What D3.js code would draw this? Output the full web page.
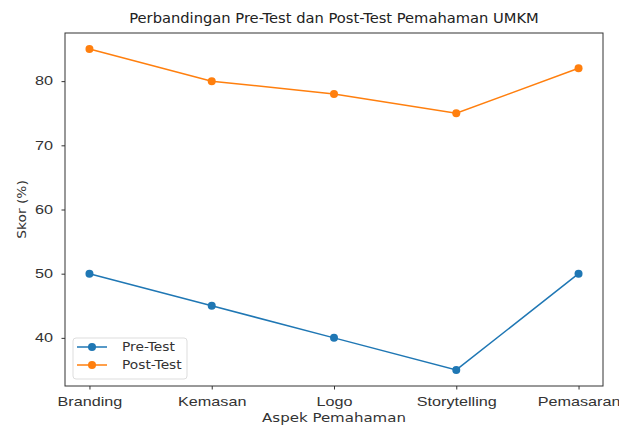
<!DOCTYPE html>
<html>
<head>
<meta charset="utf-8">
<script src="https://cdn.jsdelivr.net/npm/d3@7"></script>
<style>
  body { margin: 0; background: #fff; }
  svg { font-family: "DejaVu Sans", sans-serif; }
</style>
</head>
<body>
<svg id="chart"></svg>
<script>
let categories = ["Branding", "Kemasan", "Logo", "Storytelling", "Pemasaran"];
let preTest = [50, 45, 40, 35, 50];
let postTest = [85, 80, 78, 75, 82];
let yTicks = [40, 50, 60, 70, 80];
let seriesNames = ["Pre-Test", "Post-Test"];
let colors = ["#1f77b4", "#ff7f0e"];

// the reference text looks stretched sideways a bit
let stretch = 1.35;

function drawChart() {
    let w = 619, h = 425;
    let margin = {top: 33, right: 16, bottom: 39, left: 65};

    let svg = d3.select("#chart")
        .attr("width", w)
        .attr("height", h);

    // matplotlib style 5% padding on both axes
    let x = d3.scaleLinear()
        .domain([-0.2, categories.length - 1 + 0.2])
        .range([margin.left, w - margin.right]);

    let allVals = preTest.concat(postTest);
    let yMin = d3.min(allVals), yMax = d3.max(allVals);
    let pad = (yMax - yMin) * 0.05;
    let y = d3.scaleLinear()
        .domain([yMin - pad, yMax + pad])
        .range([h - margin.bottom, margin.top]);

    let xAxis = d3.axisBottom(x)
        .tickValues(d3.range(categories.length))
        .tickFormat(i => categories[i])
        .tickSizeOuter(0)
        .tickSize(3.5)
        .tickPadding(8);

    let yAxis = d3.axisLeft(y)
        .tickValues(yTicks)
        .tickSizeOuter(0)
        .tickSize(3.5)
        .tickPadding(8.5);

    let gx = svg.append("g")
        .attr("transform", `translate(0,${h - margin.bottom})`)
        .call(xAxis);
    let gy = svg.append("g")
        .attr("transform", `translate(${margin.left},0)`)
        .call(yAxis);

    [gx, gy].forEach(g => {
        g.select(".domain").remove();
        g.selectAll("line").attr("stroke", "#333");
        g.selectAll("text")
            .attr("font-size", 12)
            .attr("fill", "#333")
            .each(function() {
                let t = d3.select(this);
                let tx = +t.attr("x") || 0;
                t.attr("x", 0)
                    .attr("transform", `translate(${tx},0) scale(${stretch},1)`);
            });
    });

    let series = [preTest, postTest];
    let line = d3.line()
        .x((d, i) => x(i))
        .y(d => y(d));

    series.forEach((vals, s) => {
        svg.append("path")
            .datum(vals)
            .attr("fill", "none")
            .attr("stroke", colors[s])
            .attr("stroke-width", 1.5)
            .attr("d", line);
        svg.append("g")
            .selectAll("circle")
            .data(vals)
            .enter()
            .append("circle")
            .attr("cx", (d, i) => x(i))
            .attr("cy", d => y(d))
            .attr("r", 4)
            .attr("fill", colors[s]);
    });

    // axes frame
    svg.append("rect")
        .attr("x", margin.left)
        .attr("y", margin.top)
        .attr("width", w - margin.left - margin.right)
        .attr("height", h - margin.top - margin.bottom)
        .attr("fill", "none")
        .attr("stroke", "#333")
        .attr("stroke-width", 1);

    svg.append("text")
        .attr("x", (margin.left + w - margin.right) / 2)
        .attr("y", 23)
        .attr("text-anchor", "middle")
        .attr("font-size", 14.7)
        .attr("fill", "#222")
        .text("Perbandingan Pre-Test dan Post-Test Pemahaman UMKM");

    svg.append("text")
        .attr("transform", `translate(${(margin.left + w - margin.right) / 2},422) scale(1.25,1)`)
        .attr("text-anchor", "middle")
        .attr("font-size", 12)
        .attr("fill", "#333")
        .text("Aspek Pemahaman");

    svg.append("text")
        .attr("transform", `translate(26,${(margin.top + h - margin.bottom) / 2}) rotate(-90) scale(1.15,1)`)
        .attr("text-anchor", "middle")
        .attr("font-size", 12)
        .attr("fill", "#333")
        .text("Skor (%)");

    // legend
    let lg = svg.append("g").attr("transform", "translate(73,338)");
    lg.append("rect")
        .attr("width", 114)
        .attr("height", 41)
        .attr("rx", 3)
        .attr("fill", "#fff")
        .attr("fill-opacity", 0.8)
        .attr("stroke", "#ddd");
    seriesNames.forEach((name, i) => {
        let yy = 9 + i * 18;
        lg.append("line")
            .attr("x1", 4).attr("x2", 34)
            .attr("y1", yy).attr("y2", yy)
            .attr("stroke", colors[i])
            .attr("stroke-width", 1.5);
        lg.append("circle")
            .attr("cx", 19).attr("cy", yy).attr("r", 4)
            .attr("fill", colors[i]);
        lg.append("text")
            .attr("transform", `translate(49,${yy + 4}) scale(1.15,1)`)
            .attr("font-size", 12)
            .attr("fill", "#333")
            .text(name);
    });
}

window.onload = function() {
    drawChart();
}
</script>
</body>
</html>
